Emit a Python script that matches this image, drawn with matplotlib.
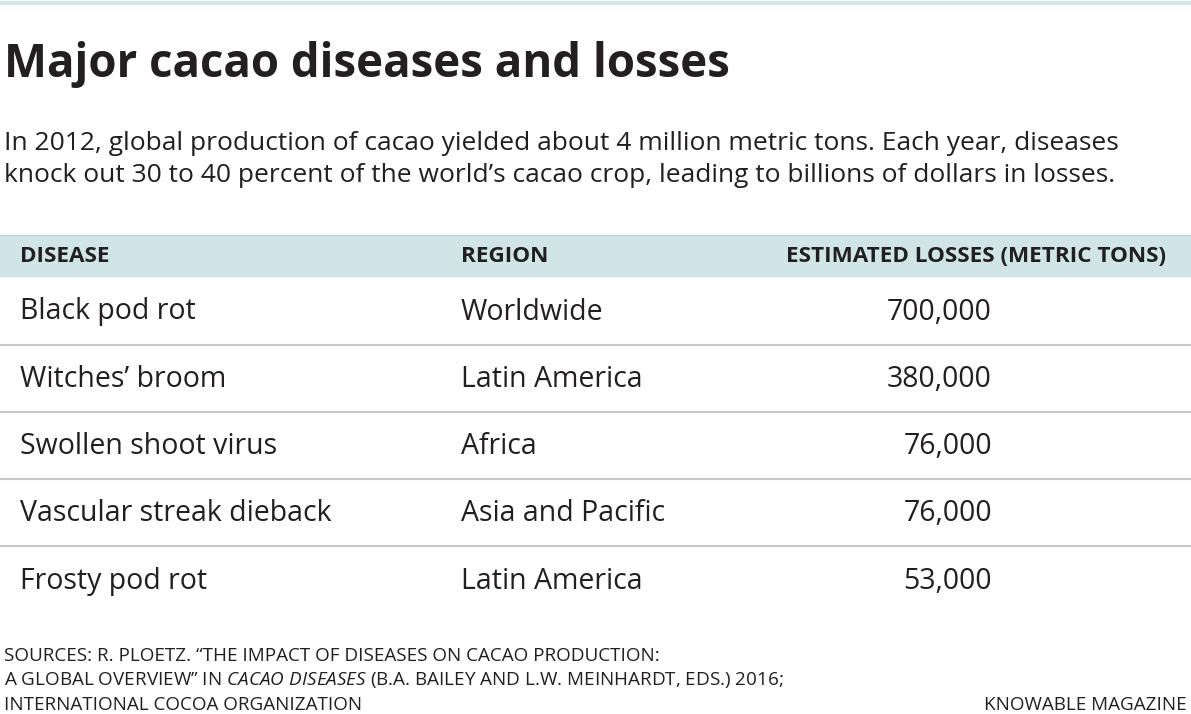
import matplotlib
matplotlib.use("Agg")
import matplotlib.pyplot as plt

title = "Major cacao diseases and losses"
subtitle = ["In 2012, global production of cacao yielded about 4 million metric tons. Each year, diseases",
            "knock out 30 to 40 percent of the world\u2019s cacao crop, leading to billions of dollars in losses."]
headers = ["DISEASE", "REGION", "ESTIMATED LOSSES (METRIC TONS)"]
diseases = ["Black pod rot", "Witches\u2019 broom", "Swollen shoot virus", "Vascular streak dieback", "Frosty pod rot"]
regions = ["Worldwide", "Latin America", "Africa", "Asia and Pacific", "Latin America"]
losses = [700000, 380000, 76000, 76000, 53000]
source = ["SOURCES: R. PLOETZ. \u201cTHE IMPACT OF DISEASES ON CACAO PRODUCTION:",
          "A GLOBAL OVERVIEW\u201d IN $\\it{CACAO\\ DISEASES}$ (B.A. BAILEY AND L.W. MEINHARDT, EDS.) 2016;",
          "INTERNATIONAL COCOA ORGANIZATION"]
credit = "KNOWABLE MAGAZINE"

plt.rcParams['font.family'] = ['Open Sans', 'DejaVu Sans']
plt.rcParams['mathtext.fontset'] = 'custom'
plt.rcParams['mathtext.it'] = 'Open Sans:italic'
W, H = 1191, 714
fig = plt.figure(figsize=(W/100, H/100), dpi=100)
ax = fig.add_axes([0, 0, 1, 1])
ax.set_xlim(0, W); ax.set_ylim(H, 0); ax.axis('off')
dark = "#231f20"
f = 1.08

ax.axhline(3, color="#d3e7e8", lw=3)
ax.text(4, 64, title, fontsize=29*f*1.05, fontweight='bold', color=dark, va='center')
for i, s in enumerate(subtitle):
    ax.text(4, 143 + i*33, s, fontsize=17.6*f, color=dark, va='center')

ax.fill_between([0, W], 235, 277, color="#cfe5e6", lw=0)
ax.plot([0, W], [235, 235], color="#b9cfd0", lw=0.8)
ax.text(20, 257, headers[0], fontsize=15*f, fontweight='bold', color=dark, va='center')
ax.text(461, 257, headers[1], fontsize=15*f, fontweight='bold', color=dark, va='center')
ax.text(1166, 257, headers[2], fontsize=15*f, fontweight='bold', color=dark, va='center', ha='right')

row0, step = 312, 67.3
for i, (d, r, v) in enumerate(zip(diseases, regions, losses)):
    y = row0 + i*step
    ax.text(20, y, d, fontsize=19*f, color=dark, va='center')
    ax.text(461, y, r, fontsize=19*f, color=dark, va='center')
    ax.text(992, y, f"{v:,}", fontsize=19*f, color=dark, va='center', ha='right')
    if i < len(diseases) - 1:
        ax.plot([0, W], [y + 32.5, y + 32.5], color="#c8c8c8", lw=1.5)

for i, s in enumerate(source):
    ax.text(4, 656 + i*24.5, s, fontsize=12.6*f, color=dark, va='center')
ax.text(1187, 705, credit, fontsize=12.6*f, color=dark, va='center', ha='right')

fig.savefig("out.png", dpi=100)
